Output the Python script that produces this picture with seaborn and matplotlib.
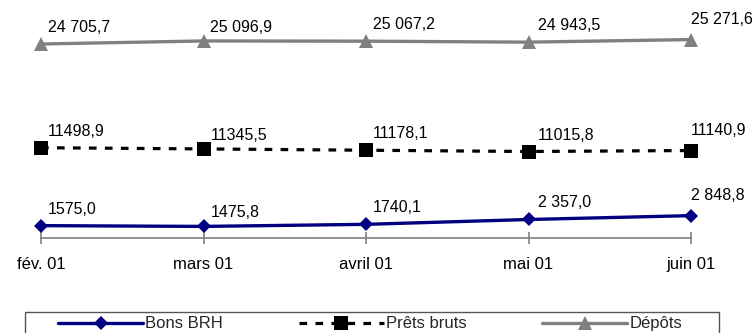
import matplotlib
matplotlib.use("Agg")
import matplotlib.pyplot as plt
from matplotlib.patches import Rectangle
import seaborn as sns
import pandas as pd

months = ["fév. 01", "mars 01", "avril 01", "mai 01", "juin 01"]
bons_brh = [1575.0, 1475.8, 1740.1, 2357.0, 2848.8]
prets_bruts = [11498.9, 11345.5, 11178.1, 11015.8, 11140.9]
depots = [24705.7, 25096.9, 25067.2, 24943.5, 25271.6]

bons_labels = ["1575,0", "1475,8", "1740,1", "2 357,0", "2 848,8"]
prets_labels = ["11498,9", "11345,5", "11178,1", "11015,8", "11140,9"]
depots_labels = ["24 705,7", "25 096,9", "25 067,2", "24 943,5", "25 271,6"]

sns.set_theme(style="white")
plt.rcParams["font.family"] = ["Liberation Sans", "DejaVu Sans"]

fig = plt.figure(figsize=(7.55, 3.33), dpi=100)
ax = fig.add_axes([41 / 755, 95 / 333, 650 / 755, 212 / 333])

df = pd.DataFrame({"mois": months, "Bons BRH": bons_brh,
                   "Prêts bruts": prets_bruts, "Dépôts": depots})
df["pos"] = range(len(months))

sns.lineplot(data=df, x="pos", y="Bons BRH", ax=ax, color="#000080",
             linewidth=2.4, marker="D", markersize=7, markeredgewidth=0,
             label="Bons BRH", clip_on=False)
sns.lineplot(data=df, x="pos", y="Prêts bruts", ax=ax, color="black",
             linewidth=2.3, linestyle=(0, (2.4, 2.6)), marker="s",
             markersize=9.5, markeredgewidth=0, label="Prêts bruts",
             clip_on=False)
sns.lineplot(data=df, x="pos", y="Dépôts", ax=ax, color="#808080",
             linewidth=2.4, marker="^", markersize=10, markeredgewidth=0,
             label="Dépôts", clip_on=False)

# value labels placed above and to the right of each point
label_offsets = [(7, 9), (7, 6), (7, 9), (9, 9), (0, 13)]
for vals, labs in ((bons_brh, bons_labels), (prets_bruts, prets_labels),
                   (depots, depots_labels)):
    for i, (v, t) in enumerate(zip(vals, labs)):
        dx, dy = label_offsets[i]
        ax.annotate(t, (i, v), xytext=(dx, dy), textcoords="offset pixels",
                    ha="left", va="bottom", fontsize=11.5, color="black")

ax.set_xlim(0, len(months) - 1)
ax.set_ylim(0, 27000)
ax.set_xticks(range(len(months)))
ax.set_xticklabels(months, fontsize=12)
ax.set_yticks([])
ax.set_xlabel("")
ax.set_ylabel("")
for s in ("top", "right", "left"):
    ax.spines[s].set_visible(False)
ax.spines["bottom"].set_color("#808080")
ax.spines["bottom"].set_linewidth(1.2)
ax.tick_params(axis="x", which="major", bottom=True, direction="inout",
               length=8, width=1.2, color="#808080", pad=10,
               labelcolor="black")

ax.get_legend().remove()
handles, labels = ax.get_legend_handles_labels()
leg = fig.legend(handles, labels, loc="upper left",
                 bbox_to_anchor=(55 / 755, 20 / 333),
                 bbox_transform=fig.transFigure, ncol=3,
                 fontsize=12, frameon=False, handlelength=5.1,
                 handletextpad=0.12, columnspacing=4.55, borderpad=0.2,
                 borderaxespad=0, numpoints=1)

# legend box, open at the bottom edge of the figure
fig.patches.append(Rectangle((25 / 755, -0.05), 694 / 755, 0.05 + 21 / 333,
                             transform=fig.transFigure, fill=False,
                             edgecolor="#555555", linewidth=1.0))

fig.savefig("out.png", dpi=100)
